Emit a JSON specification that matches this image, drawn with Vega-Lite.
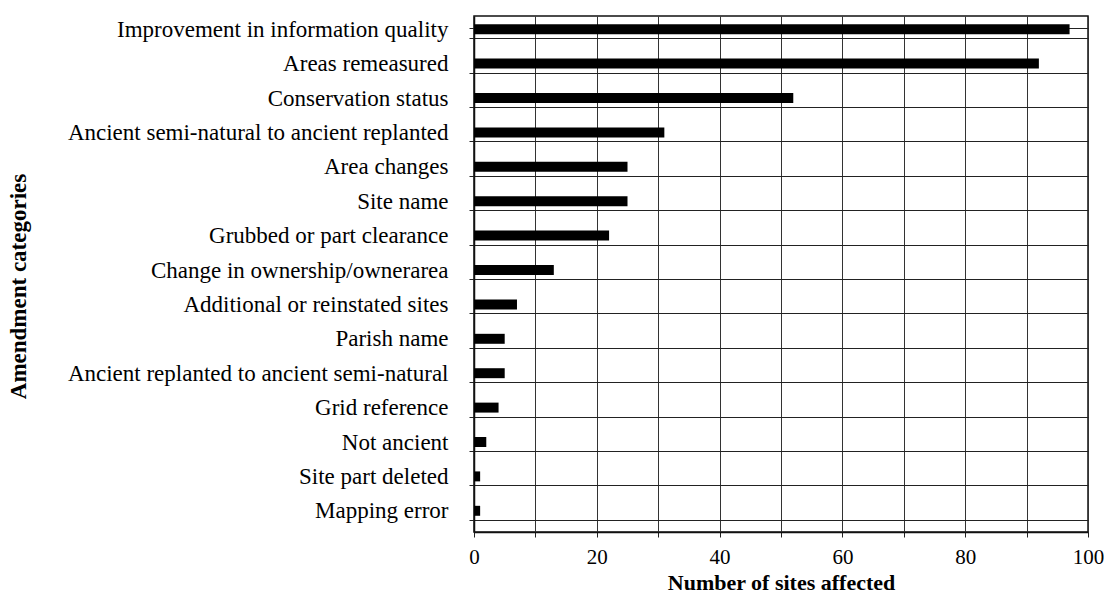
{
  "$schema": "https://vega.github.io/schema/vega-lite/v6.json",
  "width": 614,
  "height": 516,
  "autosize": {"type": "none"},
  "padding": {"left": 474, "top": 16, "right": 16, "bottom": 63},
  "background": "white",
  "config": {
    "view": {"stroke": "#111111", "strokeWidth": 1.5},
    "font": "Liberation Serif"
  },
  "data": {
    "values": [
      {"category": "Improvement in information quality", "sites": 97},
      {"category": "Areas remeasured", "sites": 92},
      {"category": "Conservation status", "sites": 52},
      {"category": "Ancient semi-natural to ancient replanted", "sites": 31},
      {"category": "Area changes", "sites": 25},
      {"category": "Site name", "sites": 25},
      {"category": "Grubbed or part clearance", "sites": 22},
      {"category": "Change in ownership/ownerarea", "sites": 13},
      {"category": "Additional or reinstated sites", "sites": 7},
      {"category": "Parish name", "sites": 5},
      {"category": "Ancient replanted to ancient semi-natural", "sites": 5},
      {"category": "Grid reference", "sites": 4},
      {"category": "Not ancient", "sites": 2},
      {"category": "Site part deleted", "sites": 1},
      {"category": "Mapping error", "sites": 1}
    ]
  },
  "mark": {"type": "bar", "color": "#000000", "yOffset": -4},
  "encoding": {
    "y": {
      "field": "category",
      "type": "nominal",
      "sort": null,
      "title": "Amendment categories",
      "scale": {"paddingInner": 0.71, "paddingOuter": 0.355},
      "axis": {
        "tickBand": "extent",
        "grid": true,
        "gridColor": "#222222",
        "gridWidth": 1,
        "domainColor": "#111111",
        "domainWidth": 1.5,
        "tickColor": "#222222",
        "tickSize": 5,
        "labelFont": "Liberation Serif",
        "labelFontSize": 23,
        "labelColor": "#000000",
        "labelPadding": 21,
        "labelOffset": -4,
        "labelLimit": 460,
        "titleFont": "Liberation Serif",
        "titleFontSize": 23,
        "titleFontWeight": "bold",
        "titleColor": "#000000",
        "titleAngle": -90,
        "titleX": -456,
        "titleY": 270,
        "titleAlign": "center",
        "titleBaseline": "middle"
      }
    },
    "x": {
      "field": "sites",
      "type": "quantitative",
      "scale": {"domain": [0, 100], "nice": false},
      "title": "Number of sites affected",
      "axis": {
        "values": [0, 10, 20, 30, 40, 50, 60, 70, 80, 90, 100],
        "labelExpr": "datum.value % 20 == 0 ? datum.label : ''",
        "grid": true,
        "gridColor": "#333333",
        "gridWidth": 1,
        "domainColor": "#111111",
        "domainWidth": 1.5,
        "tickColor": "#222222",
        "tickSize": 5,
        "labelFont": "Liberation Serif",
        "labelFontSize": 21,
        "labelColor": "#000000",
        "labelPadding": 9,
        "labelFlush": false,
        "titleFont": "Liberation Serif",
        "titleFontSize": 22,
        "titleFontWeight": "bold",
        "titleColor": "#000000",
        "titleBaseline": "alphabetic",
        "titleY": 57
      }
    }
  }
}
